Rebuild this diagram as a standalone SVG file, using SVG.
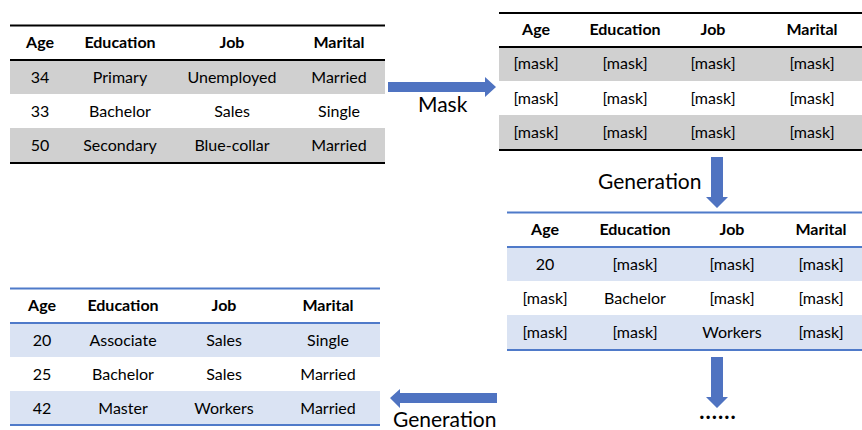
<svg xmlns="http://www.w3.org/2000/svg" width="862" height="430" viewBox="0 0 862 430">
<style>
text{font-family:Lato,"Liberation Sans",sans-serif;fill:#000;text-anchor:middle}
.h{font-weight:bold;font-size:16px}
.d{font-size:16px}
.lbl{font-size:21px;text-anchor:start}
.gray{fill:#d0d0d0}
.lb{fill:#dae3f3}
.kl{stroke:#000;stroke-width:2}
.bl{stroke:#4f7ac9;stroke-width:2}
.arr{fill:#4f73c1}
</style>
<rect width="862" height="430" fill="#fff"/>
<g id="table-original">
<rect class="gray" x="10" y="60" width="375" height="34"/>
<rect class="gray" x="10" y="128" width="375" height="34"/>
<line class="kl" x1="10" y1="25.5" x2="385" y2="25.5"/>
<line class="kl" x1="10" y1="60" x2="385" y2="60"/>
<line class="kl" x1="10" y1="163" x2="385" y2="163"/>
<text class="h" x="40" y="48">Age</text><text class="h" x="120" y="48">Education</text><text class="h" x="232" y="48">Job</text><text class="h" x="339" y="48">Marital</text>
<text class="d" x="40" y="83">34</text><text class="d" x="120" y="83">Primary</text><text class="d" x="232" y="83">Unemployed</text><text class="d" x="339" y="83">Married</text>
<text class="d" x="40" y="117">33</text><text class="d" x="120" y="117">Bachelor</text><text class="d" x="232" y="117">Sales</text><text class="d" x="339" y="117">Single</text>
<text class="d" x="40" y="151">50</text><text class="d" x="120" y="151">Secondary</text><text class="d" x="232" y="151">Blue-collar</text><text class="d" x="339" y="151">Married</text>
</g>
<g id="table-masked">
<rect class="gray" x="499" y="47" width="363" height="34"/>
<rect class="gray" x="499" y="115" width="363" height="35"/>
<line class="kl" x1="499" y1="13" x2="862" y2="13"/>
<line class="kl" x1="499" y1="47" x2="862" y2="47"/>
<line class="kl" x1="499" y1="150" x2="862" y2="150"/>
<text class="h" x="536" y="35">Age</text><text class="h" x="625" y="35">Education</text><text class="h" x="713" y="35">Job</text><text class="h" x="812" y="35">Marital</text>
<text class="d" x="536" y="69">[mask]</text><text class="d" x="625" y="69">[mask]</text><text class="d" x="713" y="69">[mask]</text><text class="d" x="812" y="69">[mask]</text>
<text class="d" x="536" y="104">[mask]</text><text class="d" x="625" y="104">[mask]</text><text class="d" x="713" y="104">[mask]</text><text class="d" x="812" y="104">[mask]</text>
<text class="d" x="536" y="138">[mask]</text><text class="d" x="625" y="138">[mask]</text><text class="d" x="713" y="138">[mask]</text><text class="d" x="812" y="138">[mask]</text>
</g>
<g id="table-partial">
<rect class="lb" x="507" y="247" width="355" height="34"/>
<rect class="lb" x="507" y="315" width="355" height="35"/>
<line class="bl" x1="507" y1="212.5" x2="862" y2="212.5"/>
<line class="bl" x1="507" y1="247" x2="862" y2="247"/>
<line class="bl" x1="507" y1="350" x2="862" y2="350"/>
<text class="h" x="545" y="235">Age</text><text class="h" x="635" y="235">Education</text><text class="h" x="732" y="235">Job</text><text class="h" x="821" y="235">Marital</text>
<text class="d" x="545" y="270">20</text><text class="d" x="635" y="270">[mask]</text><text class="d" x="732" y="270">[mask]</text><text class="d" x="821" y="270">[mask]</text>
<text class="d" x="545" y="304">[mask]</text><text class="d" x="635" y="304">Bachelor</text><text class="d" x="732" y="304">[mask]</text><text class="d" x="821" y="304">[mask]</text>
<text class="d" x="545" y="338">[mask]</text><text class="d" x="635" y="338">[mask]</text><text class="d" x="732" y="338">Workers</text><text class="d" x="821" y="338">[mask]</text>
</g>
<g id="table-generated">
<rect class="lb" x="10" y="323" width="370" height="34"/>
<rect class="lb" x="10" y="391" width="370" height="34"/>
<line class="bl" x1="10" y1="288.5" x2="380" y2="288.5"/>
<line class="bl" x1="10" y1="323" x2="380" y2="323"/>
<line class="bl" x1="10" y1="425" x2="380" y2="425"/>
<text class="h" x="42" y="311">Age</text><text class="h" x="123" y="311">Education</text><text class="h" x="224" y="311">Job</text><text class="h" x="328" y="311">Marital</text>
<text class="d" x="42" y="346">20</text><text class="d" x="123" y="346">Associate</text><text class="d" x="224" y="346">Sales</text><text class="d" x="328" y="346">Single</text>
<text class="d" x="42" y="380">25</text><text class="d" x="123" y="380">Bachelor</text><text class="d" x="224" y="380">Sales</text><text class="d" x="328" y="380">Married</text>
<text class="d" x="42" y="414">42</text><text class="d" x="123" y="414">Master</text><text class="d" x="224" y="414">Workers</text><text class="d" x="328" y="414">Married</text>
</g>
<g id="connectors">
<polygon class="arr" points="388,82 485,82 485,77 496,87 485,97 485,92 388,92"/>
<text class="lbl" x="418" y="112">Mask</text>
<polygon class="arr" points="711,157 723,157 723,197 728,197 717,208 706,197 711,197"/>
<text class="lbl" x="598" y="189">Generation</text>
<polygon class="arr" points="711,357 723,357 723,397 728,397 717,408 706,397 711,397"/>
<text x="718" y="419" style="font-size:22px;font-weight:bold;letter-spacing:1px">......</text>
<polygon class="arr" points="497,393 400,393 400,389 390,398 400,408 400,403 497,403"/>
<text class="lbl" x="393" y="427">Generation</text>
</g>
</svg>
